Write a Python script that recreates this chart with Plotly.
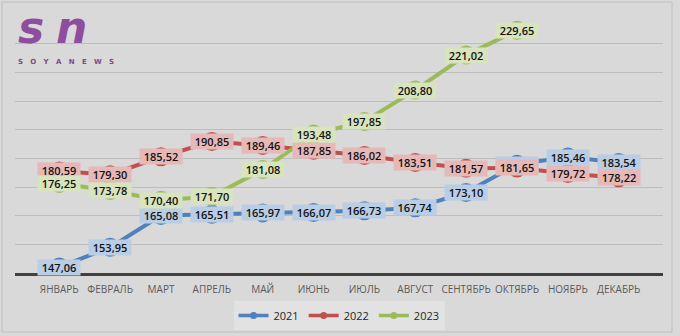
import plotly.graph_objects as go

months = ["ЯНВАРЬ", "ФЕВРАЛЬ", "МАРТ", "АПРЕЛЬ", "МАЙ", "ИЮНЬ", "ИЮЛЬ",
          "АВГУСТ", "СЕНТЯБРЬ", "ОКТЯБРЬ", "НОЯБРЬ", "ДЕКАБРЬ"]
y2021 = [147.06, 153.95, 165.08, 165.51, 165.97, 166.07, 166.73, 167.74, 173.10, 182.9, 185.46, 183.54]
y2022 = [180.59, 179.30, 185.52, 190.85, 189.46, 187.85, 186.02, 183.51, 181.57, 181.65, 179.72, 178.22]
y2023 = [176.25, 173.78, 170.40, 171.70, 181.08, 193.48, 197.85, 208.80, 221.02, 229.65]

series = [
    ("2021", y2021, "#4f81bd", "#b9cde5"),
    ("2022", y2022, "#c0504d", "#e6b9b8"),
    ("2023", y2023, "#9bbb59", "#d7e4bd"),
]

fig = go.Figure()
for name, ys, col, _ in series:
    fig.add_trace(go.Scatter(
        x=months[:len(ys)], y=ys, name=name, mode="lines+markers",
        line=dict(color=col, width=4),
        marker=dict(size=19, color=col), showlegend=False,
    ))
for name, ys, col, _ in series:
    fig.add_trace(go.Scatter(
        x=[None], y=[None], name=name, mode="lines+markers",
        line=dict(color=col, width=3.5),
        marker=dict(size=7, color=col), showlegend=True,
    ))

annotations = []
for name, ys, col, box in series:
    for m, v in zip(months, ys):
        annotations.append(dict(
            x=m, y=v, xref="x", yref="y", showarrow=False,
            text=f"{v:.2f}".replace(".", ","),
            font=dict(family="Open Sans", size=11, color="#111111", weight=600),
            bgcolor=box, width=42, height=15, borderpad=0,
        ))

W, H = 680, 336
L, R, T, B = 15, 17, 15, 63

def px(x):
    return (x - L) / (W - L - R)

def py(y):
    return (H - y - B) / (H - T - B)

# logo
for xpos, letter in [(16, "s"), (54, "n")]:
    annotations.append(dict(x=px(xpos), y=py(0), xref="paper", yref="paper",
                            text=f"<b><i>{letter}</i></b>", showarrow=False,
                            xanchor="left", yanchor="top",
                            font=dict(family="DejaVu Sans", size=44, color="#8e4d9e")))
annotations.append(dict(x=px(16), y=py(56), xref="paper", yref="paper",
                        text="<b>S   O   Y   A   N   E   W   S</b>",
                        showarrow=False, xanchor="left", yanchor="top",
                        font=dict(family="DejaVu Sans", size=7, color="#7b4a8c")))

fig.update_layout(
    width=W, height=H,
    margin=dict(l=L, r=R, t=T, b=B, autoexpand=False),
    paper_bgcolor="#d9d9d9", plot_bgcolor="#d9d9d9",
    font=dict(family="Open Sans", color="#404040"),
    showlegend=True,
    legend=dict(orientation="h", x=0.5, xanchor="center",
                yref="container", y=(H - 301) / H, yanchor="top",
                bgcolor="#e2e2e2", font=dict(size=11, color="#262626"),
                itemwidth=30, traceorder="normal"),
    annotations=annotations,
    xaxis=dict(showline=True, linecolor="#404040", linewidth=2.5, showgrid=False,
               tickfont=dict(size=10, color="#595959"), ticks="", tickangle=0,
               ticklabelstandoff=5, fixedrange=True, automargin=False),
    yaxis=dict(range=[145, 235], tick0=145, dtick=10, showticklabels=False,
               gridcolor="#bdbdbd", gridwidth=1, zeroline=False, ticks="",
               automargin=False),
    shapes=[dict(type="rect", xref="paper", yref="paper",
                 x0=px(2), x1=px(W - 8), y0=py(H - 4), y1=py(2),
                 line=dict(color="#bfbfbf", width=1), layer="below")],
)

fig.write_html("out.html")
